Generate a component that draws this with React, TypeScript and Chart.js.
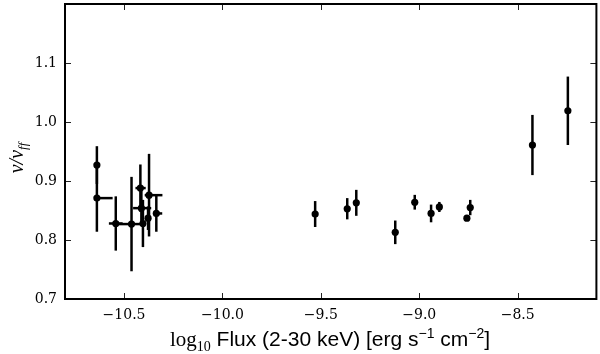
import React, { useEffect, useRef } from "react";
import { Chart, registerables } from "chart.js";

Chart.register(...registerables);

// log10 flux values
const fluxX = [-10.638, -10.638, -10.542, -10.462, -10.417, -10.373, -10.412, -10.378, -10.404, -10.336,
  -9.529, -9.366, -9.320, -9.122, -9.023, -8.940, -8.898, -8.758, -8.741, -8.425, -8.245];
// v / v_ff
const ratioY = [0.927, 0.871, 0.828, 0.827, 0.888, 0.876, 0.854, 0.837, 0.828, 0.845,
  0.844, 0.853, 0.863, 0.813, 0.864, 0.845, 0.856, 0.837, 0.855, 0.961, 1.019];
const yErr = [0.032, 0.057, 0.046, 0.080, 0.040, 0.070, 0.030, 0.020, 0.040, 0.031,
  0.022, 0.018, 0.022, 0.020, 0.0125, 0.015, 0.0085, 0.003, 0.013, 0.051, 0.058];
const xErrLo = [0, 0, 0.035, 0.068, 0.025, 0.022, 0.042, 0, 0, 0.017,
  0, 0, 0, 0, 0, 0, 0, 0, 0, 0, 0];
const xErrHi = [0, 0.08, 0.035, 0.068, 0.027, 0.068, 0.050, 0, 0, 0.030,
  0, 0, 0, 0, 0, 0, 0, 0, 0, 0, 0];

const xTicks = [-10.5, -10.0, -9.5, -9.0, -8.5];
const yTicks = [0.7, 0.8, 0.9, 1.0, 1.1];
const xRange = [-10.8, -8.1];
const yRange = [0.7, 1.2];

const fmt = (v: number) => (v < 0 ? "\u2212" : "") + Math.abs(v).toFixed(1);

const framePlugin = {
  id: "frameAndBars",
  beforeDatasetsDraw(chart: any) {
    const { ctx, scales } = chart;
    const xs = scales.x, ys = scales.y;
    ctx.save();
    ctx.strokeStyle = "#000";
    ctx.lineWidth = 2.5;
    ctx.lineCap = "butt";
    for (let i = 0; i < fluxX.length; i++) {
      const px = xs.getPixelForValue(fluxX[i]);
      const py = ys.getPixelForValue(ratioY[i]);
      if (yErr[i] > 0) {
        ctx.beginPath();
        ctx.moveTo(px, ys.getPixelForValue(ratioY[i] + yErr[i]));
        ctx.lineTo(px, ys.getPixelForValue(ratioY[i] - yErr[i]));
        ctx.stroke();
      }
      if (xErrLo[i] > 0 || xErrHi[i] > 0) {
        ctx.beginPath();
        ctx.moveTo(xs.getPixelForValue(fluxX[i] - xErrLo[i]), py);
        ctx.lineTo(xs.getPixelForValue(fluxX[i] + xErrHi[i]), py);
        ctx.stroke();
      }
    }
    ctx.restore();
  },
  afterDraw(chart: any) {
    const { ctx, chartArea: a, scales } = chart;
    const xs = scales.x, ys = scales.y;
    ctx.save();
    // tick marks (inward, all four sides)
    ctx.strokeStyle = "#222";
    ctx.lineWidth = 1;
    const tl = 6;
    for (const v of xTicks) {
      const p = Math.round(xs.getPixelForValue(v)) + 0.5;
      ctx.beginPath();
      ctx.moveTo(p, a.bottom); ctx.lineTo(p, a.bottom - tl);
      ctx.moveTo(p, a.top); ctx.lineTo(p, a.top + tl);
      ctx.stroke();
    }
    for (const v of yTicks) {
      const p = Math.round(ys.getPixelForValue(v)) + 0.5;
      ctx.beginPath();
      ctx.moveTo(a.left, p); ctx.lineTo(a.left + tl, p);
      ctx.moveTo(a.right, p); ctx.lineTo(a.right - tl, p);
      ctx.stroke();
    }
    // frame
    ctx.strokeStyle = "#000";
    ctx.lineWidth = 2;
    ctx.strokeRect(a.left, a.top, a.right - a.left, a.bottom - a.top);

    // x axis title with mixed fonts
    const segs = [
      { t: "log", f: "21px 'Liberation Serif'", dy: 0 },
      { t: "10", f: "14px 'Liberation Serif'", dy: 5 },
      { t: " Flux (2-30 keV) [erg s", f: "21px 'Liberation Sans'", dy: 0 },
      { t: "\u22121", f: "14px 'Liberation Sans'", dy: -8 },
      { t: " cm", f: "21px 'Liberation Sans'", dy: 0 },
      { t: "\u22122", f: "14px 'Liberation Sans'", dy: -8 },
      { t: "]", f: "21px 'Liberation Sans'", dy: 0 },
    ];
    let total = 0;
    for (const s of segs) { ctx.font = s.f; total += ctx.measureText(s.t).width; }
    let x = 330 - total / 2;
    const base = 346;
    ctx.fillStyle = "#000";
    ctx.textBaseline = "alphabetic";
    ctx.textAlign = "left";
    for (const s of segs) {
      ctx.font = s.f;
      ctx.fillText(s.t, x, base + s.dy);
      x += ctx.measureText(s.t).width;
    }

    // y axis title: v / v_ff
    ctx.translate(23, 158);
    ctx.rotate(-Math.PI / 2);
    const ysegs = [
      { t: "v/v", f: "italic 20px 'Liberation Serif'", dy: 0 },
      { t: "ff", f: "italic 13px 'Liberation Serif'", dy: 4 },
    ];
    let yt = 0;
    for (const s of ysegs) { ctx.font = s.f; yt += ctx.measureText(s.t).width; }
    let yx = -yt / 2;
    for (const s of ysegs) {
      ctx.font = s.f;
      ctx.fillText(s.t, yx, s.dy);
      yx += ctx.measureText(s.t).width;
    }
    ctx.restore();
  },
};

export default function App() {
  const ref = useRef<HTMLCanvasElement | null>(null);
  useEffect(() => {
    document.body.style.margin = "0";
    const canvas = ref.current;
    if (!canvas) return;
    const chart = new Chart(canvas, {
      type: "scatter",
      data: {
        datasets: [
          {
            data: fluxX.map((v, i) => ({ x: v, y: ratioY[i] })),
            backgroundColor: "#000",
            borderColor: "#000",
            pointRadius: 3.6,
            pointHoverRadius: 3.6,
            borderWidth: 0,
          },
        ],
      },
      options: {
        animation: false,
        responsive: false,
        events: [],
        layout: { padding: { top: 4, right: 3, left: 0, bottom: 0 } },
        plugins: { legend: { display: false }, tooltip: { enabled: false } },
        scales: {
          x: {
            type: "linear",
            min: xRange[0],
            max: xRange[1],
            grid: { display: false, drawTicks: false },
            border: { display: false },
            afterBuildTicks: (s: any) => { s.ticks = xTicks.map((v) => ({ value: v })); },
            afterFit: (s: any) => { s.height = 55; s.paddingLeft = 0; s.paddingRight = 0; },
            ticks: {
              color: "#000",
              padding: 8,
              maxRotation: 0,
              font: { family: "'DejaVu Serif'", size: 14 },
              callback: (v: any) => fmt(Number(v)),
            },
          },
          y: {
            type: "linear",
            min: yRange[0],
            max: yRange[1],
            grid: { display: false, drawTicks: false },
            border: { display: false },
            afterBuildTicks: (s: any) => { s.ticks = yTicks.map((v) => ({ value: v })); },
            afterFit: (s: any) => { s.width = 65; s.paddingTop = 0; s.paddingBottom = 0; },
            ticks: {
              color: "#000",
              padding: 8,
              font: { family: "'DejaVu Serif'", size: 14 },
              callback: (v: any) => fmt(Number(v)),
            },
          },
        },
      },
      plugins: [framePlugin],
    });
    return () => chart.destroy();
  }, []);
  return <canvas ref={ref} width={600} height={354} style={{ display: "block" }} />;
}
